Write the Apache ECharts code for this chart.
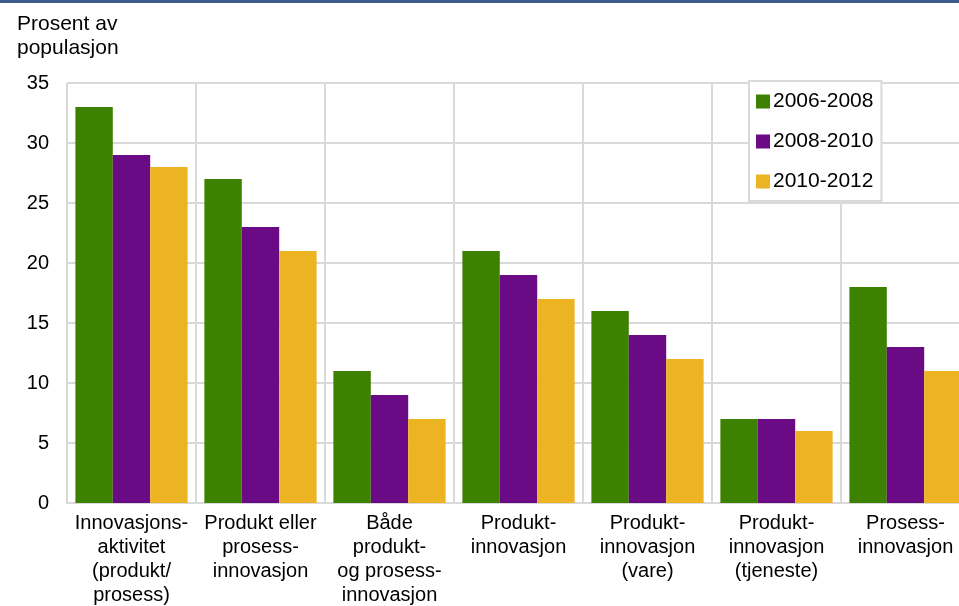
<!DOCTYPE html>
<html>
<head>
<meta charset="utf-8">
<script src="https://cdn.jsdelivr.net/npm/echarts@6/dist/echarts.min.js"></script>
<style>html,body{margin:0;padding:0;background:#fff;overflow:hidden}#c{width:959px;height:606px}</style>
</head>
<body>
<div id="c"></div>
<script>
const categories = [
  'Innovasjons-\naktivitet\n(produkt/\nprosess)',
  'Produkt eller\nprosess-\ninnovasjon',
  'Både\nprodukt-\nog prosess-\ninnovasjon',
  'Produkt-\ninnovasjon',
  'Produkt-\ninnovasjon\n(vare)',
  'Produkt-\ninnovasjon\n(tjeneste)',
  'Prosess-\ninnovasjon'
];
const seriesNames = ['2006-2008', '2008-2010', '2010-2012'];
const s2006_2008 = [33, 27, 11, 21, 16, 7, 18];
const s2008_2010 = [29, 23, 9, 19, 14, 7, 13];
const s2010_2012 = [28, 21, 7, 17, 12, 6, 11];
const colors = ['#3d8100', '#6a0a84', '#ecb323'];
const yTicks = { min: 0, max: 35, interval: 5 };
const axisTitle = 'Prosent av\npopulasjon';

const FONT = '"Liberation Sans", Arial, sans-serif';
const chart = echarts.init(document.getElementById('c'), null, { renderer: 'canvas' });
const values = [s2006_2008, s2008_2010, s2010_2012];
chart.setOption({
  animation: false,
  textStyle: { fontFamily: FONT, color: '#000' },
  grid: { left: 67, top: 83, width: 903, height: 420, containLabel: false, outerBoundsMode: 'none' },
  graphic: [
    { type: 'rect', left: 0, top: 0, z: 100, shape: { width: 959, height: 3 }, style: { fill: '#3e5d8e' } },
    { type: 'text', left: 17, top: 12, style: { text: axisTitle, font: '21px ' + FONT, fill: '#000', lineHeight: 24 } }
  ],
  legend: {
    orient: 'vertical',
    left: 749, top: 81,
    itemWidth: 14, itemHeight: 14, itemGap: 19,
    padding: [10, 8, 9, 7],
    backgroundColor: '#fff',
    borderColor: '#d9d9d9', borderWidth: 2,
    icon: 'rect',
    textStyle: { fontFamily: FONT, fontSize: 21, color: '#000', padding: [0, 0, 0, -2] },
    data: seriesNames
  },
  xAxis: {
    type: 'category',
    data: categories,
    axisLine: { show: true, lineStyle: { color: '#d9d9d9', width: 2 } },
    axisTick: { show: false },
    splitLine: { show: true, lineStyle: { color: '#d9d9d9', width: 2 } },
    axisLabel: { interval: 0, fontFamily: FONT, fontSize: 20, color: '#000', lineHeight: 24, margin: 8 }
  },
  yAxis: {
    type: 'value',
    min: yTicks.min, max: yTicks.max, interval: yTicks.interval,
    axisLine: { show: false },
    axisTick: { show: false },
    splitLine: { show: true, lineStyle: { color: '#d9d9d9', width: 2 } },
    axisLabel: { fontFamily: FONT, fontSize: 20, color: '#000', margin: 18 }
  },
  series: seriesNames.map((n, i) => ({
    name: n,
    type: 'bar',
    data: values[i],
    barGap: '0%',
    barCategoryGap: '13%',
    itemStyle: { color: colors[i] }
  }))
});
</script>
</body>
</html>
